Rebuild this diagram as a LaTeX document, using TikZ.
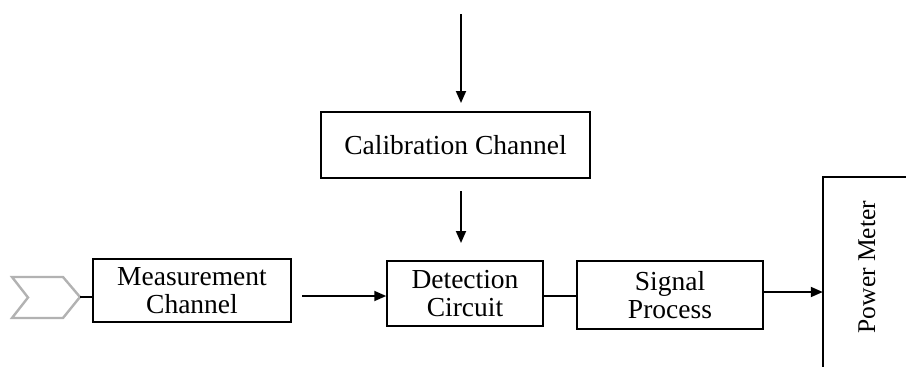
\documentclass[tikz,border=0pt]{standalone}
\usepackage{fontspec}
\setmainfont{Liberation Serif}
\usetikzlibrary{arrows.meta}
\begin{document}
\begin{tikzpicture}[x=1pt,y=-1pt,
  blk/.style={draw, line width=1.5pt, inner sep=0pt, align=center, font=\fontsize{27.5}{28}\selectfont},
  arr/.style={line width=1.8pt, -{Triangle[length=12pt,width=10pt]}},
  ln/.style={line width=1.8pt}]
\useasboundingbox (0,0) rectangle (906,367);
% nodes
\node[blk, minimum width=269pt, minimum height=66pt] (cal) at (455.5,145) {Calibration Channel};
\node[blk, minimum width=198pt, minimum height=63pt] (meas) at (192,290.5) {Measurement\\Channel};
\node[blk, minimum width=156pt, minimum height=65pt] (det) at (465,293.5) {Detection\\Circuit};
\node[blk, minimum width=186pt, minimum height=68pt] (sp) at (670,295) {Signal\\Process};
\node[inner sep=0pt, minimum width=83pt, minimum height=190pt] (pm) at (864.5,272) {};
\node[rotate=90, font=\fontsize{25.5}{28}\selectfont] (pmt) at (867,267) {Power Meter};
\draw[line width=1.5pt] (pm.north east) -- (pm.north west) -- (pm.south west);
% chevron source
\coordinate (tip) at (80,297);
\draw[gray!60, line width=2.4pt, line join=miter] (12,277) -- (63,277) -- (tip) -- (63,318) -- (12,318) -- (28,297.5) -- cycle;
% connectors
\coordinate (top) at (461,14);
\draw[arr] (top) -- (461,103);
\coordinate (c1) at (461,191);
\draw[arr] (c1) -- (461,243);
\draw[ln] (tip) -- (meas.west |- tip);
\draw[arr] (302,296) -- (det.west |- 0,296);
\draw[ln] (det.east |- 0,296) -- (sp.west |- 0,296);
\draw[arr] (sp.east |- 0,292) -- (pm.west |- 0,292);
\end{tikzpicture}
\end{document}
